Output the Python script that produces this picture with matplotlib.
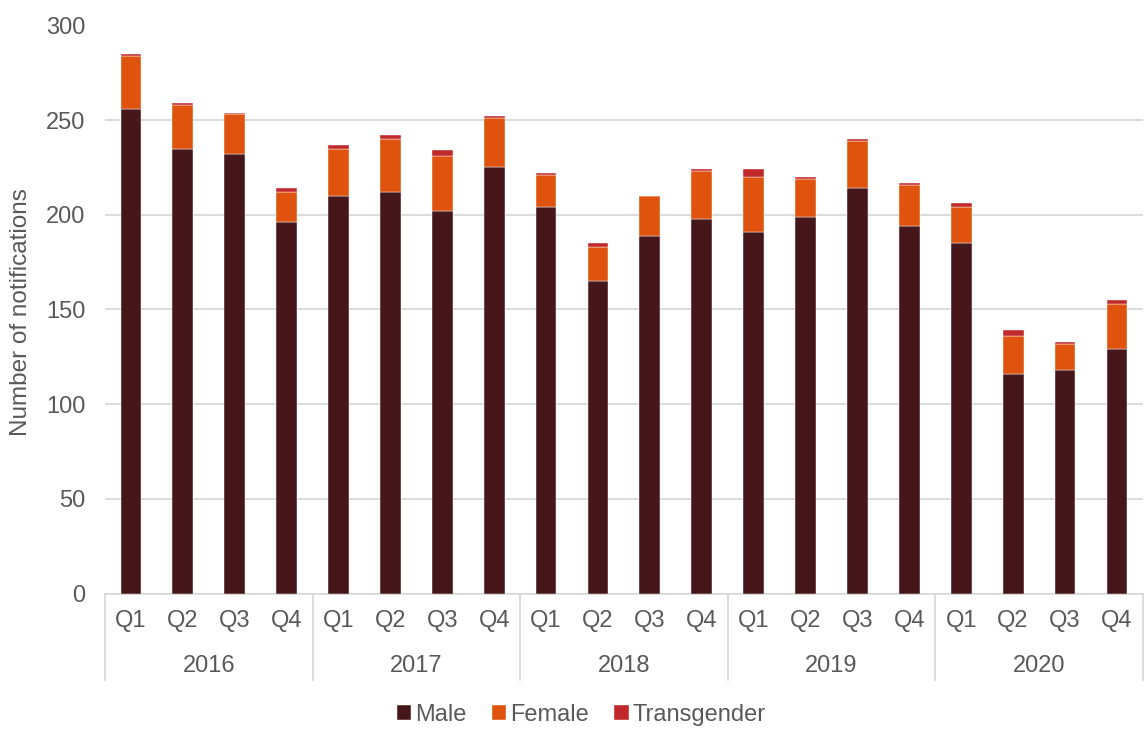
import numpy as np
import matplotlib.pyplot as plt
import matplotlib.transforms as mtransforms

plt.rcParams['font.family'] = ['Liberation Sans', 'DejaVu Sans']

# data
years = ["2016", "2017", "2018", "2019", "2020"]
quarters = ["Q1", "Q2", "Q3", "Q4"]
male = [256, 235, 232, 196, 210, 212, 202, 225, 204, 165,
        189, 198, 191, 199, 214, 194, 185, 116, 118, 129]
female = [28, 23, 21, 16, 25, 28, 29, 26, 17, 18,
          21, 25, 29, 20, 25, 22, 19, 20, 14, 24]
transgender = [1, 1, 1, 2, 2, 2, 3, 1, 1, 2,
               0, 1, 4, 1, 1, 1, 2, 3, 1, 2]

c_male = "#45171a"
c_female = "#e0530e"
c_trans = "#c0282a"
grey = "#595959"
light = "#d9d9d9"

male = np.array(male)
female = np.array(female)
transgender = np.array(transgender)
x = np.arange(len(male))

fig = plt.figure(figsize=(11.44, 7.29), dpi=100)
ax = fig.add_axes([105 / 1144, 1 - 593.5 / 729, 1 - 105 / 1144 - 0.001, 568 / 729])

w = 0.4
ax.bar(x, male, w, color=c_male, label="Male", edgecolor="white", linewidth=0.3, zorder=3)
ax.bar(x, female, w, bottom=male, color=c_female, label="Female", edgecolor="white", linewidth=0.3, zorder=3)
ax.bar(x, transgender, w, bottom=male + female, color=c_trans, label="Transgender",
       edgecolor="white", linewidth=0.3, zorder=3)

ax.set_ylim(0, 300)
ax.set_xlim(-0.5, len(male) - 0.5)
ax.set_yticks(np.arange(0, 301, 50))
ax.yaxis.grid(True, color=light, linewidth=1.3)
ax.set_axisbelow(True)
for s in ["top", "right", "left"]:
    ax.spines[s].set_visible(False)
ax.spines["bottom"].set_color(light)
ax.spines["bottom"].set_linewidth(1.3)
ax.tick_params(axis="y", length=0, pad=14, labelsize=17, labelcolor=grey)
ax.tick_params(axis="x", length=0, labelbottom=False)

# quarter and year labels under the axis
trans = mtransforms.blended_transform_factory(ax.transData, ax.transAxes)
for i in x:
    ax.text(i, -0.049, quarters[i % 4], transform=trans, ha="center", va="center",
            fontsize=17, color=grey)
for j, yr in enumerate(years):
    ax.text(j * 4 + 1.5, -0.127, yr, transform=trans, ha="center", va="center",
            fontsize=17, color=grey)
for j in range(len(years) + 1):
    ax.plot([j * 4 - 0.5, j * 4 - 0.5], [0, -0.152], transform=trans, color=light,
            linewidth=1.3, clip_on=False)

fig.text(21 / 1144, 1 - 312 / 729, "Number of notifications", rotation=90,
         ha="center", va="center", fontsize=17.5, color=grey)

fig.legend(loc="center", bbox_to_anchor=(0.508, 1 - 715 / 729), ncol=3, frameon=False,
           fontsize=17, labelcolor=grey, handlelength=0.6, handleheight=0.6,
           handletextpad=0.15, columnspacing=1.1)

fig.savefig("out.png", dpi=100)
